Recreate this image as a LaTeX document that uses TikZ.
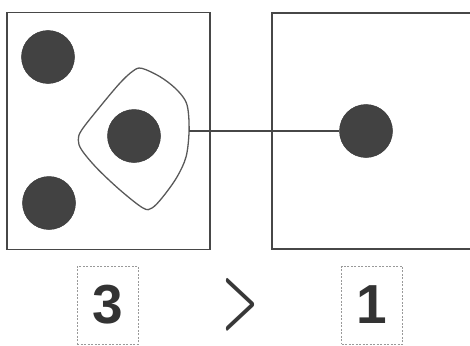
\documentclass[tikz,border=0pt]{standalone}
\usepackage{fontspec}
\setmainfont{Liberation Sans}
\newcommand{\gtsign}{\resizebox{36pt}{46pt}{\boldmath$>$}}
\begin{document}
\begin{tikzpicture}[x=1pt,y=-1pt,
  frame/.style={draw=black!72, line width=1.3pt},
  dot/.style={circle, fill=black!74, draw=black!78, line width=0.5pt, minimum size=53pt, inner sep=0pt},
  numbox/.style={draw=black!40, dashed, dash pattern=on 2pt off 1.5pt, line width=0.6pt,
    minimum width=61pt, minimum height=78pt, inner sep=0pt,
    font=\fontsize{55}{55}\selectfont\bfseries, text=black!80},
  blobline/.style={draw=black!65, line width=1.3pt}]
\useasboundingbox (0,0) rectangle (470,345);
% left panel
\node[frame, rectangle, minimum width=203pt, minimum height=237pt, inner sep=0pt] (L) at (108.5,131) {};
% right panel (open to the right)
\coordinate (Rtr) at (472,13);
\coordinate (Rtl) at (272,13);
\coordinate (Rbl) at (272,249);
\coordinate (Rbr) at (472,249);
\draw[frame] (Rtr) -- (Rtl) -- (Rbl) -- (Rbr);
% dots
\node[dot] (d1) at (48,57) {};
\node[dot] (d2) at (49,203) {};
\node[dot] (d3) at (134,136) {};
\node[dot] (d4) at (366,131) {};
% blob around middle dot
\draw[blobline] plot[smooth cycle, tension=0.55] coordinates {
  (141.7,68.3) (160,76.7) (175,88) (185,100) (188.3,112) (189,133)
  (186,157) (177,177) (163,196.7) (152,208) (143,208)
  (120,190) (96.7,168) (81.7,150) (78.3,140) (81.7,130) (100,106.7) (120,83) (133,71)};
\coordinate (blobE) at (189,131);
\draw[frame, line width=1.2pt] (blobE) -- (d4.west);
% numbers
\node[numbox] (n3) at (107.5,305) {3};
\node[inner sep=0pt, text=black!78] (gt) at (241,305) {\gtsign};
\node[numbox] (n1) at (372,305) {1};
\end{tikzpicture}
\end{document}
